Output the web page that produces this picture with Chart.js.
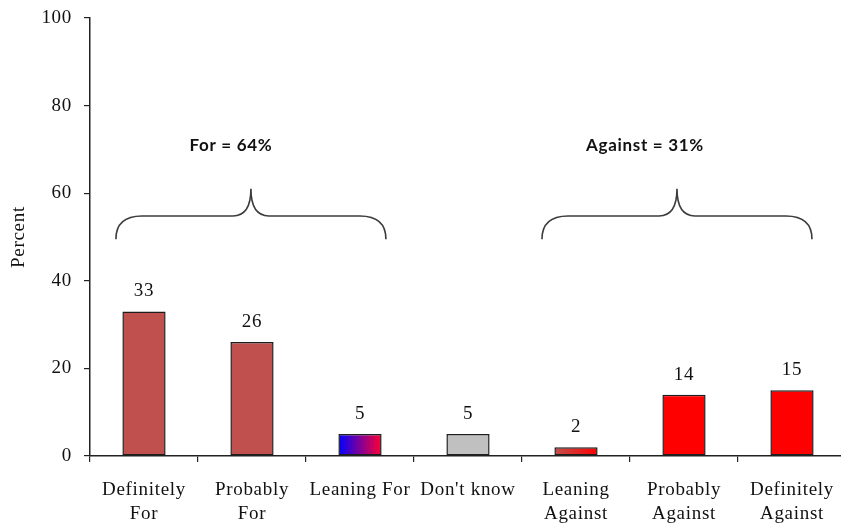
<!DOCTYPE html>
<html>
<head>
<meta charset="utf-8">
<script src="https://cdn.jsdelivr.net/npm/chart.js@4.4.1/dist/chart.umd.min.js"></script>
<style>
  html, body { margin: 0; padding: 0; background: #fff; overflow: hidden; }
  #wrap { width: 841px; height: 523px; position: relative; overflow: hidden; }
</style>
</head>
<body>
<div id="wrap"><canvas id="c" width="846" height="523"></canvas></div>
<script>
// Survey responses, percent of respondents
const categories = [
  ['Definitely', 'For'],
  ['Probably', 'For'],
  'Leaning For',
  "Don't know",
  ['Leaning', 'Against'],
  ['Probably', 'Against'],
  ['Definitely', 'Against']
];
const percents = [33, 26, 5, 5, 2, 14, 15];
const yTicks = [0, 20, 40, 60, 80, 100];

// Grouped totals shown above the bars (first and last category index)
const groupLabels = ['For = 64%', 'Against = 31%'];
const groupStart = [0, 4];
const groupEnd = [2, 6];

// Fill styles: plain colours, or [from, to] for a left-to-right gradient
const BROWN = '#C0504D';
const barFills = [BROWN, BROWN, ['#0000FF', '#FF0033'], '#C0C0C0', [BROWN, '#FF0000'], '#FF0000', '#FF0000'];

const SERIF = '"Liberation Serif", "Times New Roman", serif';
const BAR_PCT = 0.4;

function fillFor(ctx) {
  const f = barFills[ctx.dataIndex];
  if (!Array.isArray(f)) return f;
  const chart = ctx.chart;
  const xs = chart.scales.x;
  if (!chart.chartArea || !xs) return f[1];
  const cx = xs.getPixelForValue(ctx.dataIndex);
  const half = (xs.width / categories.length) * BAR_PCT / 2;
  const g = chart.ctx.createLinearGradient(cx - half, 0, cx + half, 0);
  g.addColorStop(0, f[0]);
  g.addColorStop(1, f[1]);
  return g;
}

// Slightly open letter spacing for all chart text
const spacing = {
  id: 'spacing',
  beforeDraw(chart) {
    if ('letterSpacing' in chart.ctx) chart.ctx.letterSpacing = '0.7px';
  }
};

// Value labels above each bar
const valueLabels = {
  id: 'valueLabels',
  afterDatasetsDraw(chart) {
    const ctx = chart.ctx;
    const meta = chart.getDatasetMeta(0);
    ctx.save();
    ctx.font = '19px ' + SERIF;
    ctx.fillStyle = '#111';
    ctx.textAlign = 'center';
    ctx.textBaseline = 'middle';
    meta.data.forEach((bar, i) => {
      ctx.fillText(String(percents[i]), bar.x, bar.y - 20);
    });
    ctx.restore();
  }
};

// Curly braces grouping the For / Against categories
const groupBraces = {
  id: 'groupBraces',
  afterDraw(chart, args, opts) {
    const ctx = chart.ctx;
    const xs = chart.scales.x, ys = chart.scales.y;
    const cw = xs.width / categories.length;
    const yText = ys.getPixelForValue(opts.textValue);
    const yTip = ys.getPixelForValue(opts.tipValue);
    const yMid = ys.getPixelForValue(opts.midValue);
    const yEnd = ys.getPixelForValue(opts.endValue);
    ctx.save();
    ctx.strokeStyle = '#3c3c3c';
    ctx.lineWidth = 1.6;
    groupLabels.forEach((label, k) => {
      const centre = (groupStart[k] + groupEnd[k]) / 2 + opts.tipShift[k];
      const xT = xs.getPixelForValue(centre);
      const xL = xT - opts.halfSpan * cw;
      const xR = xT + opts.halfSpan * cw;
      const r = 26, s = 18;
      ctx.beginPath();
      ctx.moveTo(xL, yEnd);
      ctx.quadraticCurveTo(xL, yMid, xL + r, yMid);
      ctx.lineTo(xT - s, yMid);
      ctx.quadraticCurveTo(xT, yMid, xT, yTip);
      ctx.quadraticCurveTo(xT, yMid, xT + s, yMid);
      ctx.lineTo(xR - r, yMid);
      ctx.quadraticCurveTo(xR, yMid, xR, yEnd);
      ctx.stroke();

      ctx.font = 'bold 17px Lato, "Open Sans", sans-serif';
      ctx.fillStyle = '#111';
      ctx.textAlign = 'center';
      ctx.textBaseline = 'middle';
      ctx.fillText(label, xT + opts.textShift[k] * cw, yText);
    });
    ctx.restore();
  }
};

const chart = new Chart(document.getElementById('c'), {
  type: 'bar',
  data: {
    labels: categories,
    datasets: [{
      data: percents,
      backgroundColor: fillFor,
      borderColor: '#1e1e1e',
      borderWidth: 1.5,
      borderSkipped: false,
      barPercentage: BAR_PCT,
      categoryPercentage: 1
    }]
  },
  options: {
    responsive: false,
    animation: false,
    events: [],
    layout: { padding: { top: 18, right: 0, bottom: 0, left: 0 } },
    plugins: {
      legend: { display: false },
      tooltip: { enabled: false },
      groupBraces: {
        textValue: 71, tipValue: 61, midValue: 54.8, endValue: 49.5,
        halfSpan: 1.25, tipShift: [-0.01, -0.065], textShift: [-0.185, -0.296]
      }
    },
    scales: {
      x: {
        offset: true,
        grid: { offset: true, drawOnChartArea: false, drawTicks: true, tickLength: 6, color: '#222', lineWidth: 1.2 },
        border: { display: true, color: '#222', width: 1.5 },
        ticks: {
          autoSkip: false, maxRotation: 0, minRotation: 0, padding: 16,
          color: '#111',
          font: { family: SERIF, size: 19, lineHeight: 1.27 }
        },
        afterFit(scale) {
          scale.height = 67;
          scale.paddingLeft = 0;
          scale.paddingRight = 0;
        }
      },
      y: {
        min: 0, max: 100,
        afterBuildTicks(scale) { scale.ticks = yTicks.map(v => ({ value: v })); },
        grid: { drawOnChartArea: false, drawTicks: true, tickLength: 6, color: '#222', lineWidth: 1.2 },
        border: { display: true, color: '#222', width: 1.5 },
        ticks: { padding: 12, color: '#111', font: { family: SERIF, size: 19 } },
        title: { display: true, text: 'Percent', color: '#111', font: { family: SERIF, size: 19 }, padding: { top: 8, bottom: 0 } },
        afterFit(scale) {
          scale.width = 90;
          scale.paddingTop = 0;
          scale.paddingBottom = 0;
        }
      }
    }
  },
  plugins: [spacing, valueLabels, groupBraces]
});
</script>
</body>
</html>
